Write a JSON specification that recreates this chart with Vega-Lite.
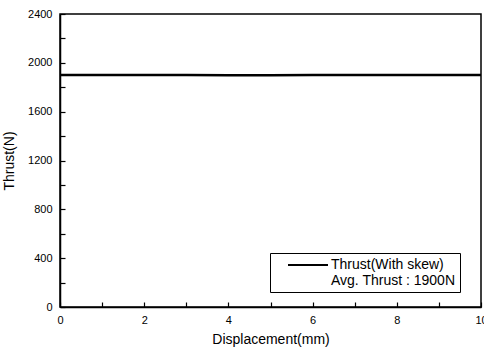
{
  "$schema": "https://vega.github.io/schema/vega-lite/v6.json",
  "width": 421,
  "height": 293,
  "autosize": {"type": "none"},
  "padding": {"left": 60, "top": 14, "right": 3, "bottom": 42},
  "background": "white",
  "config": {
    "font": "Liberation Sans",
    "view": {"stroke": "black", "strokeWidth": 1.5},
    "axis": {
      "domainColor": "black",
      "domainWidth": 1.5,
      "tickColor": "black",
      "tickWidth": 1.2,
      "grid": false,
      "labelColor": "black",
      "labelFontSize": 11,
      "titleColor": "black",
      "titleFontSize": 14,
      "titleFontWeight": "normal"
    }
  },
  "data": {
    "values": [
      {"x": 0, "thrust": 1900, "series": "Thrust(With skew)"},
      {"x": 1, "thrust": 1900, "series": "Thrust(With skew)"},
      {"x": 2, "thrust": 1900, "series": "Thrust(With skew)"},
      {"x": 3, "thrust": 1900, "series": "Thrust(With skew)"},
      {"x": 4, "thrust": 1899, "series": "Thrust(With skew)"},
      {"x": 5, "thrust": 1899, "series": "Thrust(With skew)"},
      {"x": 6, "thrust": 1900, "series": "Thrust(With skew)"},
      {"x": 7, "thrust": 1900, "series": "Thrust(With skew)"},
      {"x": 8, "thrust": 1900, "series": "Thrust(With skew)"},
      {"x": 9, "thrust": 1900, "series": "Thrust(With skew)"},
      {"x": 10, "thrust": 1900, "series": "Thrust(With skew)"}
    ]
  },
  "mark": {"type": "line", "strokeWidth": 2.5},
  "encoding": {
    "x": {
      "field": "x",
      "type": "quantitative",
      "scale": {"domain": [0, 10], "nice": false},
      "axis": {
        "title": "Displacement(mm)",
        "values": [0, 1, 2, 3, 4, 5, 6, 7, 8, 9, 10],
        "labelExpr": "datum.value % 2 === 0 ? datum.label : ''",
        "tickSize": -5,
        "labelPadding": 12,
        "titlePadding": 7,
        "labelFlush": false
      }
    },
    "y": {
      "field": "thrust",
      "type": "quantitative",
      "scale": {"domain": [0, 2400], "nice": false},
      "axis": {
        "title": "Thrust(N)",
        "values": [0, 200, 400, 600, 800, 1000, 1200, 1400, 1600, 1800, 2000, 2200, 2400],
        "labelExpr": "datum.value % 400 === 0 ? datum.label : ''",
        "format": "d",
        "tickSize": -5,
        "labelPadding": 13,
        "titlePadding": 11,
        "labelFlush": false
      }
    },
    "stroke": {
      "field": "series",
      "type": "nominal",
      "scale": {"domain": ["Thrust(With skew)", "Avg. Thrust : 1900N"], "range": ["black", "transparent"]},
      "legend": {
        "title": null,
        "orient": "none",
        "legendX": 210,
        "legendY": 239,
        "symbolType": "M-2.857,0H2.857",
        "symbolSize": 196,
        "symbolStrokeWidth": 2,
        "symbolOffset": 26,
        "labelOffset": 15,
        "labelFontSize": 14,
        "labelColor": "black",
        "labelExpr": "datum.label + '\u2003\u2003'",
        "padding": 4,
        "rowPadding": 1,
        "fillColor": "white",
        "strokeColor": "black",
        "labelLimit": 300
      }
    }
  }
}
